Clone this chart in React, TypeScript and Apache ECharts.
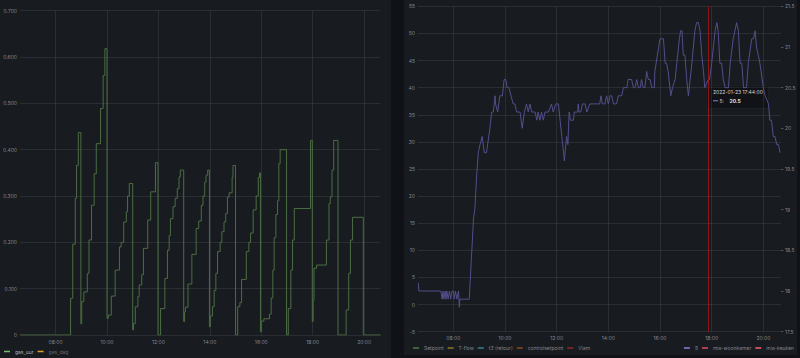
import React, { useEffect, useRef } from "react";
import * as echarts from "echarts";

// ---- data ----
const xTickTimes = ["08:00", "10:00", "12:00", "14:00", "16:00", "18:00", "20:00"];

const gasTimes = [
  "06:37","08:35","08:40","08:46","08:49","08:53","08:59","09:01","09:06","09:14",
  "09:18","09:24","09:30","09:35","09:45","09:51","09:55","10:00","10:03","10:10",
  "10:19","10:29","10:33","10:39","10:45","10:48","10:52","11:00","11:02","11:06",
  "11:12","11:15","11:21","11:25","11:35","11:42","11:53","11:59","12:05","12:15",
  "12:21","12:25","12:28","12:34","12:39","12:44","12:48","12:51","12:59","13:01",
  "13:03","13:09","13:18","13:28","13:34","13:40","13:44","13:48","13:51","13:55",
  "13:59","14:01","14:06","14:10","14:14","14:18","14:24","14:28","14:33","14:37",
  "14:41","14:45","14:52","14:54","15:00","15:05","15:10","15:14","15:25","15:31",
  "15:35","15:41","15:48","15:53","15:56","15:58","16:00","16:06","16:19","16:23",
  "16:27","16:30","16:34","16:38","16:41","16:44","16:59","17:03","17:09","17:13",
  "17:17","17:55","17:59","18:01","18:03","18:09","18:32","18:38","18:41","18:45",
  "18:49","18:59","19:18","19:24","19:28","19:33","19:58","20:39"
];
const gasUurValues = [
  0,0.079,0.196,0.295,0.366,0.437,0.024,0.072,0.093,0.133,
  0.205,0.28,0.348,0.413,0.489,0.56,0.618,0.036,0.043,0.084,
  0.14,0.19,0.2,0.244,0.266,0.3,0.327,0.011,0.025,0.061,
  0.083,0.108,0.13,0.187,0.248,0.309,0.372,0,0.057,0.122,
  0.183,0.215,0.251,0.277,0.295,0.316,0.341,0.356,0.029,0.05,
  0.06,0.11,0.174,0.23,0.246,0.28,0.3,0.33,0.345,0.356,
  0.018,0.041,0.061,0.096,0.133,0.18,0.2,0.223,0.244,0.262,
  0.298,0.307,0.34,0.366,0,0.061,0.07,0.12,0.18,0.2,
  0.22,0.27,0.3,0.34,0.35,0.007,0.03,0.035,0.045,0.08,
  0.14,0.21,0.26,0.29,0.37,0.4,0,0.057,0.14,0.205,
  0.273,0.42,0.029,0.075,0.144,0.151,0.205,0.284,0.298,0.356,
  0.42,0,0.054,0.133,0.205,0.254,0,0
];

const tempTimes = [
  "06:39","06:40","07:31","07:34","07:36","07:38","07:41","07:43","07:45","07:48",
  "07:51","07:54","07:57","08:00","08:02","08:05","08:08","08:12","08:14","08:15",
  "08:37","08:42","08:47","08:50","08:54","08:58","09:02","09:07","09:12","09:17",
  "09:25","09:29","09:33","09:37","09:38","09:43","09:48","09:54","09:58","10:02",
  "10:05","10:09","10:14","10:19","10:23","10:27","10:35","10:40","10:45","10:50",
  "10:54","10:58","11:02","11:10","11:14","11:17","11:21","11:25","11:29","11:33",
  "11:41","11:48","11:52","11:58","12:04","12:08","12:12","12:18","12:23","12:26",
  "12:29","12:32","12:39","12:41","12:49","12:50","12:52","12:56","13:00","13:06",
  "13:10","13:17","13:40","13:43","13:46","13:52","13:56","14:00","14:04","14:08",
  "14:12","14:19","14:23","14:31","14:35","14:43","14:46","14:54","14:58","15:02",
  "15:06","15:10","15:14","15:17","15:21","15:25","15:29","15:33","15:37","15:41",
  "15:47","15:48","15:54","16:00","16:08","16:12","16:15","16:19","16:25","16:29",
  "16:35","16:39","16:45","16:48","16:51","16:54","16:58","17:02","17:06","17:10",
  "17:14","17:21","17:25","17:29","17:33","17:37","17:41","17:44","17:52","17:55",
  "18:00","18:04","18:08","18:12","18:15","18:19","18:23","18:27","18:31","18:39",
  "18:43","18:50","18:58","19:02","19:06","19:10","19:14","19:21","19:25","19:33",
  "19:37","19:41","19:44","19:52","20:00","20:04","20:12","20:15","20:19","20:23",
  "20:27","20:31","20:35","20:39"
];
const tempValues = [
  18.1,18.0,18.0,17.9,18.0,17.9,18.0,17.9,18.0,17.9,
  18.0,17.9,18.0,18.0,17.9,18.0,17.9,18.0,17.8,17.9,
  17.9,18.4,18.9,19.0,19.4,19.7,19.8,19.9,19.7,19.7,
  20.0,20.2,20.2,20.4,20.3,20.2,20.4,20.4,20.6,20.6,
  20.5,20.5,20.4,20.3,20.3,20.2,20.2,20.0,20.2,20.3,
  20.2,20.3,20.2,20.2,20.1,20.2,20.1,20.2,20.1,20.2,
  20.2,20.3,20.2,20.3,20.3,20.1,19.9,19.6,19.9,19.8,
  20.2,20.1,20.1,20.2,20.2,20.3,20.2,20.2,20.3,20.3,
  20.2,20.3,20.3,20.4,20.3,20.3,20.4,20.3,20.4,20.4,
  20.3,20.3,20.4,20.4,20.5,20.5,20.6,20.6,20.5,20.5,
  20.6,20.5,20.5,20.6,20.5,20.5,20.7,20.6,20.6,20.5,
  20.5,20.7,20.9,21.1,21.1,20.8,20.8,20.7,20.4,20.5,
  20.6,20.8,21.1,21.2,21.2,20.9,20.9,20.6,20.4,20.6,
  20.8,21.2,21.3,21.3,21.2,20.9,20.7,20.5,20.6,20.6,
  20.8,21.0,21.2,21.3,21.2,20.8,20.8,20.6,20.5,20.5,
  20.8,21.1,21.3,21.2,20.8,20.8,20.5,20.5,20.8,21.1,
  21.1,21.2,21.0,20.8,20.5,20.4,20.3,20.1,20.1,19.9,
  19.9,19.8,19.8,19.7
];

const leftLegendNames = ["gas_uur", "gas_dag"];
const rightLegendLeftNames = ["Setpoint", "T-flow", "t3 (retour)", "controlsetpoint", "Vlam"];
const rightLegendRightNames = ["5", "mia-woonkamer", "mia-keuken"];
const markerTime = "17:53";
const tooltipTitle = "2022-01-23 17:44:00";
const tooltipSeries = "5";
const tooltipValue = "20.5";

// ---- helpers ----
const toMin = (s: string) => {
  const [h, m] = s.split(":").map(Number);
  return h * 60 + m;
};
const pad = (n: number) => (n < 10 ? "0" + n : "" + n);
const fmtTime = (v: number) => pad(Math.floor(v / 60)) + ":" + pad(Math.round(v % 60));

const FONT = "Inter";
const LABEL = "rgba(204,204,220,0.62)";
const GRID = "rgba(204,204,220,0.1)";

export default function App() {
  const ref = useRef<HTMLDivElement>(null);

  useEffect(() => {
    if (!ref.current) return;
    const chart = echarts.init(ref.current, null, { renderer: "svg" });
    const ticks = xTickTimes.map(toMin);
    const gasData = gasTimes.map((t, i) => [toMin(t), gasUurValues[i]]);
    const tempData = tempTimes.map((t, i) => [toMin(t), tempValues[i]]);

    const xCommon = {
      type: "value",
      axisLine: { show: false },
      axisTick: { show: false, customValues: ticks },
      splitLine: { show: true, lineStyle: { color: GRID, width: 1 }, customValues: ticks },
      axisLabel: {
        customValues: ticks,
        formatter: (v: number) => fmtTime(v),
        color: LABEL,
        fontSize: 5,
        fontFamily: FONT,
        margin: 4,
      },
    };

    const legendCommon = {
      icon: "rect",
      itemWidth: 6,
      itemHeight: 1.5,
      itemGap: 4,
      padding: 0,
      selectedMode: false,
      textStyle: { fontSize: 5, color: "rgba(204,204,220,0.6)", fontFamily: FONT },
    };

    const emptyLine = (name: string, color: string, xi: number, yi: number) => ({
      name,
      type: "line",
      xAxisIndex: xi,
      yAxisIndex: yi,
      data: [],
      color,
      showSymbol: false,
    });

    chart.setOption({
      animation: false,
      backgroundColor: "transparent",
      grid: [
        { left: 16, right: 420, top: 10.7, bottom: 23 },
        { left: 418, right: 19, top: 6.3, bottom: 26.3 },
      ],
      xAxis: [
        { ...xCommon, gridIndex: 0, min: 397, max: 1237 },
        { ...xCommon, gridIndex: 1, min: 398, max: 1241 },
      ],
      yAxis: [
        {
          type: "value",
          gridIndex: 0,
          min: 0,
          max: 0.7,
          interval: 0.1,
          axisLine: { show: false },
          axisTick: { show: false },
          splitLine: { lineStyle: { color: GRID } },
          axisLabel: {
            formatter: (v: number) => (v === 0 ? "0" : v.toFixed(3)),
            color: LABEL,
            fontSize: 5,
            fontFamily: FONT,
            margin: 3,
          },
        },
        {
          type: "value",
          gridIndex: 1,
          min: -5,
          max: 55,
          interval: 5,
          axisLine: { show: false },
          axisTick: { show: false },
          splitLine: { lineStyle: { color: GRID } },
          axisLabel: { color: LABEL, fontSize: 5, fontFamily: FONT, margin: 3 },
        },
        {
          type: "value",
          gridIndex: 1,
          position: "right",
          min: 17.5,
          max: 21.5,
          interval: 0.5,
          axisLine: { show: false },
          axisTick: { show: true, length: 2.5, lineStyle: { color: "rgba(204,204,220,0.3)" } },
          splitLine: { show: false },
          axisLabel: { color: LABEL, fontSize: 5, fontFamily: FONT, margin: 4 },
        },
      ],
      legend: [
        {
          ...legendCommon,
          left: 4,
          top: 349,
          data: [
            { name: leftLegendNames[0], textStyle: { color: "rgba(204,204,220,0.85)" } },
            { name: leftLegendNames[1], textStyle: { color: "rgba(204,204,220,0.45)" } },
          ],
        },
        { ...legendCommon, left: 413, top: 345.5, data: rightLegendLeftNames },
        {
          ...legendCommon,
          right: 6,
          top: 345.5,
          data: [
            { name: rightLegendRightNames[0], itemStyle: { color: "#8f7ee0" } },
            rightLegendRightNames[1],
            rightLegendRightNames[2],
          ],
        },
      ],
      series: [
        {
          name: leftLegendNames[0],
          type: "line",
          xAxisIndex: 0,
          yAxisIndex: 0,
          step: "end",
          data: gasData,
          color: "#73bf69",
          showSymbol: false,
          lineStyle: { width: 1, color: "#4b6e43" },
          silent: true,
        },
        emptyLine(leftLegendNames[1], "#e0a030", 0, 0),
        emptyLine(rightLegendLeftNames[0], "#4a7a42", 1, 1),
        emptyLine(rightLegendLeftNames[1], "#8a7a2c", 1, 1),
        emptyLine(rightLegendLeftNames[2], "#3b7f8c", 1, 1),
        emptyLine(rightLegendLeftNames[3], "#8a4a22", 1, 1),
        emptyLine(rightLegendLeftNames[4], "#8f2a2a", 1, 1),
        {
          name: rightLegendRightNames[0],
          type: "line",
          xAxisIndex: 1,
          yAxisIndex: 2,
          data: tempData,
          color: "#8f7ee0",
          showSymbol: false,
          lineStyle: { width: 1, color: "#554e8c" },
          silent: true,
          markLine: {
            silent: true,
            symbol: ["none", "none"],
            label: { show: false },
            lineStyle: { color: "#8e1616", width: 1, type: "solid" },
            data: [{ xAxis: toMin(markerTime) }],
          },
        },
        emptyLine(rightLegendRightNames[1], "#e8485c", 1, 2),
        emptyLine(rightLegendRightNames[2], "#ff5a76", 1, 2),
      ],
      graphic: [
        {
          type: "group",
          z: 100,
          children: [
            {
              type: "rect",
              shape: { x: 707, y: 86, width: 61, height: 22, r: 1 },
              style: { fill: "#111216", stroke: "rgba(204,204,220,0.08)", lineWidth: 0.5 },
            },
            {
              type: "text",
              x: 713,
              y: 89.5,
              style: { text: tooltipTitle, fill: "#d8d9da", fontSize: 5, fontFamily: FONT },
            },
            {
              type: "rect",
              shape: { x: 713, y: 100.3, width: 5, height: 1 },
              style: { fill: "#8f7ee0" },
            },
            {
              type: "text",
              x: 719.5,
              y: 98.3,
              style: { text: tooltipSeries + ":", fill: "#c8c9d0", fontSize: 5, fontFamily: FONT },
            },
            {
              type: "text",
              x: 729.5,
              y: 98.3,
              style: { text: tooltipValue, fill: "#e6e6ea", fontSize: 5, fontWeight: "bold", fontFamily: FONT },
            },
          ],
        },
      ],
    });
    return () => chart.dispose();
  }, []);

  return (
    <div style={{ position: "fixed", left: 0, top: 0, width: 800, height: 358, background: "#111217", overflow: "hidden" }}>
      <div style={{ position: "absolute", left: 0, top: 0, width: 391, height: 358, background: "#181b1f" }} />
      <div style={{ position: "absolute", left: 404, top: 0, width: 393, height: 355, background: "#181b1f" }} />
      <div ref={ref} style={{ position: "absolute", left: 0, top: 0, width: 800, height: 358 }} />
    </div>
  );
}
